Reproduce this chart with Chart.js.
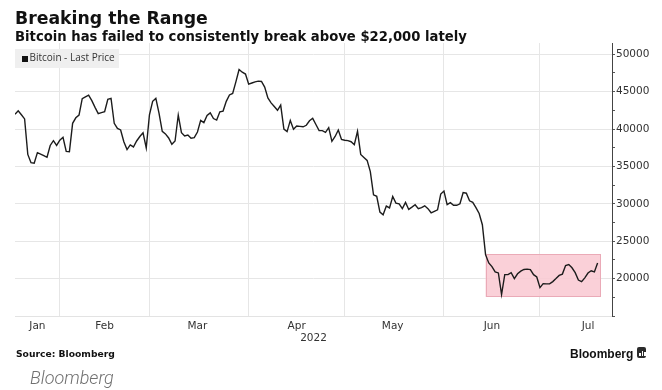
<!DOCTYPE html>
<html>
<head>
<meta charset="utf-8">
<script src="https://cdn.jsdelivr.net/npm/chart.js@4.4.1/dist/chart.umd.min.js"></script>
<style>
  body { margin: 0; background: #fff; }
  #wrap { position: relative; width: 662px; height: 390px; overflow: hidden; font-family: "DejaVu Sans", sans-serif; }
  #chart { position: absolute; left: 0; top: 0; }
  .txt { position: absolute; line-height: 1; white-space: nowrap; color: #111; }
  #title { left: 15px; top: 9.5px; font-size: 17.3px; font-weight: bold; }
  #subtitle { left: 15px; top: 29.8px; font-size: 13.2px; font-weight: bold; }
  #legend { position: absolute; left: 15px; top: 49px; width: 104px; height: 19px; background: #efefef; }
  #legend .sq { position: absolute; left: 6.5px; top: 6.5px; width: 6px; height: 6px; background: #111; }
  #legend .lb { position: absolute; left: 14.5px; top: 2.8px; font: 10px "Open Sans", sans-serif; line-height: 1; color: #333; white-space: nowrap; }
  #source { left: 16px; top: 349px; font-size: 9.2px; font-weight: bold; }
  #brand { left: 570px; top: 347.5px; font: bold 12px "Liberation Sans", sans-serif; line-height: 1; }
  #brandIcon { position: absolute; left: 637px; top: 347px; width: 9px; height: 11px; background: #2b2b2b; border-radius: 2px; }
  #brandIcon i { position: absolute; bottom: 2px; width: 1.5px; background: #fff; }
  #footer { left: 30px; top: 369px; font: italic 300 18px Roboto, sans-serif; line-height: 1; color: #707070; }
</style>
</head>
<body>
<div id="wrap">
  <canvas id="chart" width="662" height="390"></canvas>
  <div class="txt" id="title">Breaking the Range</div>
  <div class="txt" id="subtitle">Bitcoin has failed to consistently break above $22,000 lately</div>
  <div id="legend"><span class="sq"></span><span class="lb">Bitcoin - Last Price</span></div>
  <div class="txt" id="source">Source: Bloomberg</div>
  <div class="txt" id="brand">Bloomberg</div>
  <div id="brandIcon"><i style="left:2px;height:3px"></i><i style="left:4.5px;height:5px"></i><i style="left:7px;height:4px"></i></div>
  <div class="txt" id="footer">Bloomberg</div>
</div>
<script>
// Bitcoin last price, daily, 18 Jan 2022 - 19 Jul 2022
const priceJan = [41960, 42440, 41900, 41350, 36600, 35500, 35420, 36840, 36650, 36450, 36220, 37800, 38440, 37800];
const priceFeb = [38500, 38890, 37000, 36970, 40760, 41500, 41870, 44050, 44300, 44530, 43800, 42900, 42050, 42200,
  42310, 43960, 44090, 40760, 40090, 39870, 38300, 37250, 37870, 37600, 38400, 39000, 39500, 37480];
const priceMar = [41900, 43700, 44090, 42100, 39700, 39350, 38800, 37950, 38400, 41870, 39510, 39080, 39200, 38780,
  38840, 39600, 41150, 40850, 41800, 42150, 41400, 41200, 42300, 42400, 43700, 44550, 44750, 46310, 47950, 47600, 47350];
const priceApr = [46000, 46150, 46300, 46400, 46350, 45600, 44150, 43500, 43000, 42500, 43200, 40000, 39650, 41150,
  39960, 40400, 40350, 40300, 40500, 41100, 41430, 40600, 39800, 39780, 39550, 40180, 38350, 39000, 39870, 38600];
const priceMay = [38500, 38450, 38300, 37900, 39700, 36600, 36200, 35800, 34300, 31200, 31000, 28900, 28530, 29700,
  29450, 30980, 30090, 30000, 29350, 30180, 29250, 29550, 29870, 29350, 29500, 29730, 29350, 28800, 29000, 29200, 31300];
const priceJun = [31700, 29900, 30150, 29800, 29800, 30000, 31500, 31420, 30400, 30200, 29500, 28700, 27200, 23200,
  22100, 21600, 20900, 20760, 17870, 20530, 20530, 20800, 20000, 20650, 21000, 21220, 21270, 21200, 20530, 20220];
const priceJul = [18800, 19330, 19300, 19300, 19600, 20000, 20420, 20600, 21750, 21870, 21450, 20800, 19800, 19600,
  20100, 20750, 21050, 20900, 22100];

const monthNames = ["Jan", "Feb", "Mar", "Apr", "May", "Jun", "Jul"];
const monthStarts = ["2022-02-01", "2022-03-01", "2022-04-01", "2022-05-01", "2022-06-01", "2022-07-01"];
const labelDays = ["2022-01-25", "2022-02-15", "2022-03-16", "2022-04-16", "2022-05-16", "2022-06-16", "2022-07-16"];
const yearLabel = "2022";
const yTicks = [15000, 17500, 20000, 22500, 25000, 27500, 30000, 32500, 35000, 37500, 40000, 42500, 45000, 47500, 50000];

// highlighted trading range
const boxFrom = "2022-06-14", boxTo = "2022-07-20";
const boxLow = 17550, boxHigh = 23250;

const doy = s => (Date.parse(s + "T00:00:00Z") - Date.UTC(2022, 0, 1)) / 864e5;

const firstDay = ["2022-01-18", "2022-02-01", "2022-03-01", "2022-04-01", "2022-05-01", "2022-06-01", "2022-07-01"];
const points = [];
[priceJan, priceFeb, priceMar, priceApr, priceMay, priceJun, priceJul].forEach((arr, m) => {
  const d0 = doy(firstDay[m]);
  arr.forEach((v, k) => points.push({ x: d0 + k, y: v }));
});

const xMin = doy("2022-01-18"), xMax = xMin + 186.5;
const tickFont = { family: "DejaVu Sans", size: 10.5 };
const isMajor = v => v % 5000 === 0 && v > 15000;

const rangeBox = {
  id: "rangeBox",
  beforeDatasetsDraw(chart) {
    const { ctx, scales: { x, y } } = chart;
    const l = x.getPixelForValue(doy(boxFrom)), r = x.getPixelForValue(doy(boxTo));
    const t = y.getPixelForValue(boxHigh), b = y.getPixelForValue(boxLow);
    ctx.save();
    ctx.fillStyle = "rgba(249,200,209,0.85)";
    ctx.fillRect(l, t, r - l, b - t);
    ctx.strokeStyle = "#eaaab7";
    ctx.lineWidth = 1;
    ctx.strokeRect(Math.round(l) + 0.5, Math.round(t) + 0.5, Math.round(r - l) - 1, Math.round(b - t) - 1);
    ctx.restore();
  }
};

new Chart(document.getElementById("chart"), {
  type: "line",
  data: {
    datasets: [{
      label: "Bitcoin - Last Price",
      data: points,
      borderColor: "#1c1c1c",
      borderWidth: 1.4,
      pointRadius: 0,
      tension: 0
    }]
  },
  options: {
    responsive: false,
    animation: false,
    devicePixelRatio: 1,
    layout: { padding: { left: 15, top: 43, right: 0, bottom: 0 } },
    plugins: { legend: { display: false }, tooltip: { enabled: false } },
    scales: {
      x: {
        type: "linear", position: "bottom", min: xMin, max: xMax,
        afterBuildTicks: s => { s.ticks = monthStarts.map(d => ({ value: doy(d) })); },
        afterFit: s => { s.height = 0; },
        ticks: { display: false },
        grid: { color: "#e6e6e6", drawTicks: false },
        border: { color: "#e3e3e3" }
      },
      xLabel: {
        type: "linear", position: "bottom", min: xMin, max: xMax,
        afterBuildTicks: s => { s.ticks = labelDays.map(d => ({ value: doy(d) })); },
        afterFit: s => { s.height = 74; },
        ticks: { autoSkip: false, maxRotation: 0, padding: 4, color: "#333", font: tickFont,
          callback: (v, i) => monthNames[i] },
        grid: { display: false, drawTicks: false },
        border: { display: false },
        title: { display: true, text: yearLabel, color: "#333", font: tickFont, padding: { top: 0, bottom: 45 } }
      },
      y: {
        position: "right", min: 15000, max: 51500,
        afterBuildTicks: s => { s.ticks = yTicks.map(v => ({ value: v })); },
        afterFit: s => { s.width = 50; },
        ticks: { autoSkip: false, padding: 1, color: "#333", font: tickFont,
          callback: v => isMajor(v) ? String(v) : "" },
        grid: {
          color: c => (c.tick && isMajor(c.tick.value)) ? "#e6e6e6" : "rgba(0,0,0,0)",
          tickColor: "#555", tickLength: 3
        },
        border: { color: "#444" }
      }
    }
  },
  plugins: [rangeBox]
});
</script>
</body>
</html>
